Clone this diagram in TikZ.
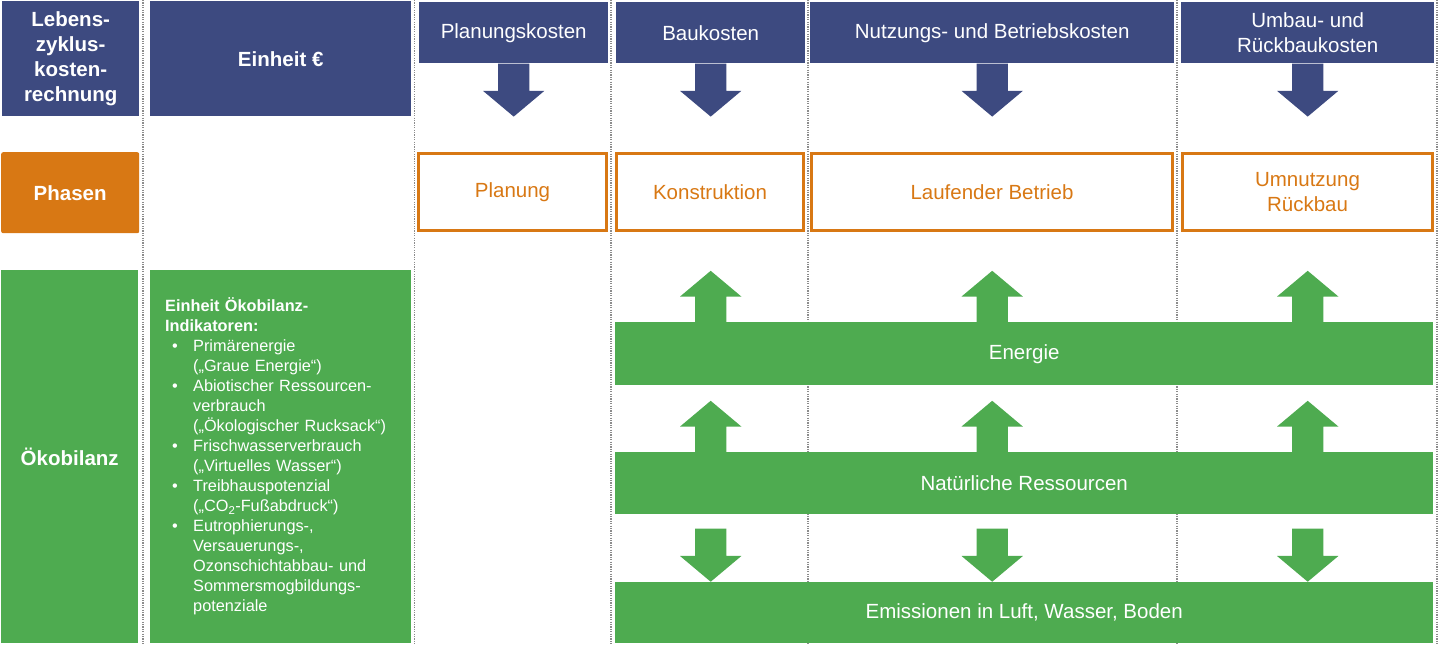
\documentclass[tikz,border=0pt]{standalone}
\usepackage{fontspec}
\setmainfont{Liberation Sans}
\usepackage{tikz}
\usetikzlibrary{positioning,shapes.arrows,calc}
\definecolor{lcnavy}{RGB}{61,74,128}
\definecolor{lcorange}{RGB}{216,120,20}
\definecolor{lcgreen}{RGB}{78,171,80}
\newcommand*{\lcfont}{\fontsize{20.5}{25}\selectfont}
\newcommand*{\ecoitem}[1]{\par\hangindent=28pt\hangafter=1\noindent\makebox[28pt][l]{\hspace{7pt}\textbullet}#1\par}
\tikzset{headbox/.style={fill=#1, text=white, font=\lcfont\bfseries, align=center, inner sep=0pt, anchor=north west},
headbox/.default={lcnavy}}
\tikzset{costbox/.style={fill=lcnavy, text=white, font=\lcfont, align=center, inner sep=0pt, anchor=north west, minimum height=61}}
\tikzset{phasebox/.style={draw=lcorange, line width=3pt, text=lcorange, font=\lcfont, align=center, inner sep=0pt, anchor=north west, minimum height=77}}
\tikzset{ecobar/.style={fill=lcgreen, text=white, font=\lcfont, inner sep=0pt, anchor=north west, minimum width=818}}
\tikzset{blockarrow/.style={single arrow, fill=#1, draw=none, inner xsep=0pt, inner ysep=15.5pt, minimum width=61, single arrow head extend=15, single arrow tip angle=100},
blockarrow/.default={lcgreen}}
\tikzset{divider/.style={draw=gray!90, line width=1.2pt, dash pattern=on 1.2pt off 1.2pt}}

\begin{document}
\begin{tikzpicture}[x=1pt,y=-1pt]
	\useasboundingbox (0,0) rectangle (1438,645);
	% dotted column lines
	\foreach \x in {143,414.5,611,808,1177,1437}
		\draw[divider] (\x,0) -- (\x,645);
	% Lebenszykluskosten
	\node[headbox, minimum width=137, minimum height=115] (lcc) at (2,1) {Lebens-\\zyklus-\\kosten-\\rechnung};
	\node[headbox, minimum width=261, minimum height=115] (unit) at (150,1) {Einheit €};
	\node[costbox, minimum width=189] (pk) at (419,2) {Planungskosten};
	\node[costbox, minimum width=189] (bk) at (616,2) {Baukosten};
	\node[costbox, minimum width=364] (nk) at (810,2) {Nutzungs- und Betriebskosten};
	\node[costbox, minimum width=253] (uk) at (1181,2) {Umbau- und\\Rückbaukosten};
	\foreach \c in {pk,bk,nk,uk}
		\node[blockarrow=lcnavy, minimum height=53, rotate=-90, anchor=tail] (cost-\c) at (\c.south) {};
	% Phasen
	\node[headbox=lcorange, rounded corners=2pt, minimum width=138, minimum height=81] (phs) at (1,152) {Phasen};
	\node[phasebox, minimum width=188] (pl) at (417,152) {Planung};
	\node[phasebox, minimum width=187] (ko) at (615,152) {Konstruktion};
	\node[phasebox, minimum width=361] (lb) at (810,152) {Laufender Betrieb};
	\node[phasebox, minimum width=250] (ur) at (1181,152) {Umnutzung\\Rückbau};
	% Oekobilanz
	\node[headbox=lcgreen, minimum width=137, minimum height=373] (oeko) at (1,270) {Ökobilanz};
	\node[headbox=lcgreen, minimum width=261, minimum height=373, text width=231, inner xsep=15pt, align=left, font=\fontsize{16.3}{20}\selectfont] (ind) at (150,270) {%
		\textbf{Einheit Ökobilanz-}\\
		\textbf{Indikatoren:}
		\ecoitem{Primärenergie\newline(„Graue Energie“)}
		\ecoitem{Abiotischer Ressourcen-\newline verbrauch\newline(„Ökologischer Rucksack“)}
		\ecoitem{Frischwasserverbrauch\newline(„Virtuelles Wasser“)}
		\ecoitem{Treibhauspotenzial\newline(„CO\textsubscript{2}-Fußabdruck“)}
		\ecoitem{Eutrophierungs-,\newline Versauerungs-,\newline Ozonschichtabbau- und\newline Sommersmogbildungs-\newline potenziale}};
	\node[ecobar, minimum height=63] (en) at (615,322) {Energie};
	\node[ecobar, minimum height=62] (nr) at (615,452) {Natürliche Ressourcen};
	\node[ecobar, minimum height=61] (em) at (615,582) {Emissionen in Luft, Wasser, Boden};
	\foreach \c in {bk,nk,uk}{
		\node[blockarrow, minimum height=51, rotate=90, anchor=tail] (en-\c) at (en.north -| \c.south) {};
		\node[blockarrow, minimum height=51, rotate=90, anchor=tail] (nr-\c) at (nr.north -| \c.south) {};
		\node[blockarrow, minimum height=53, rotate=-90, anchor=tip] (em-\c) at (em.north -| \c.south) {};
	}
\end{tikzpicture}
\end{document}
